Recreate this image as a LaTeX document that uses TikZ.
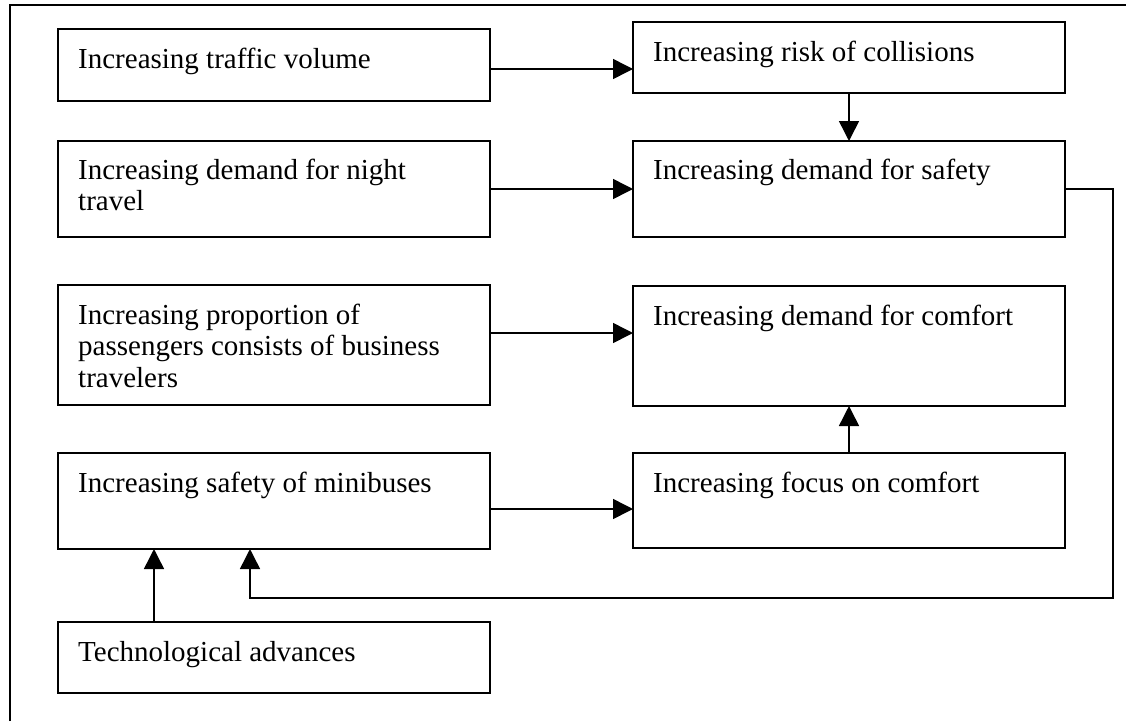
\documentclass[tikz,border=0pt]{standalone}
\usepackage{fontspec}
\setmainfont{Liberation Serif}
\usetikzlibrary{arrows.meta,calc}
\begin{document}
\begin{tikzpicture}[x=1pt,y=-1pt,
  box/.style={draw,line width=1.5pt,rectangle,inner sep=0pt,outer sep=0pt,minimum width=432pt},
  lbl/.style={inner sep=0pt,anchor=base west,font=\fontsize{29}{31.5}\selectfont},
  arr/.style={line width=1.5pt,-{Triangle[length=20pt,width=20pt]}}]
\useasboundingbox (0,0) rectangle (1126,721);
% outer frame (left and top edges)
\draw[line width=1.5pt] (10,721) -- (10,5) -- (1126,5);

% boxes
\node[box,minimum height=72pt,anchor=north west] (traffic) at (58,29) {};
\node[box,minimum height=71pt,anchor=north west] (risk) at (633,22) {};
\node[box,minimum height=96pt,anchor=north west] (night) at (58,141) {};
\node[box,minimum height=96pt,anchor=north west] (safety) at (633,141) {};
\node[box,minimum height=120pt,anchor=north west] (business) at (58,285) {};
\node[box,minimum height=120pt,anchor=north west] (comfort) at (633,286) {};
\node[box,minimum height=96pt,anchor=north west] (minibus) at (58,453) {};
\node[box,minimum height=95pt,anchor=north west] (focus) at (633,453) {};
\node[box,minimum height=71pt,anchor=north west] (tech) at (58,622) {};

% box texts
\node[lbl] (traffic-t) at ($(traffic.north west)+(20,39)$) {\begin{tabular}[t]{@{}l@{}}Increasing traffic volume\end{tabular}};
\node[lbl] (risk-t) at ($(risk.north west)+(20,39)$) {\begin{tabular}[t]{@{}l@{}}Increasing risk of collisions\end{tabular}};
\node[lbl] (night-t) at ($(night.north west)+(20,38)$) {\begin{tabular}[t]{@{}l@{}}Increasing demand for night\\travel\end{tabular}};
\node[lbl] (safety-t) at ($(safety.north west)+(20,38)$) {\begin{tabular}[t]{@{}l@{}}Increasing demand for safety\end{tabular}};
\node[lbl] (business-t) at ($(business.north west)+(20,39)$) {\begin{tabular}[t]{@{}l@{}}Increasing proportion of\\passengers consists of business\\travelers\end{tabular}};
\node[lbl] (comfort-t) at ($(comfort.north west)+(20,39)$) {\begin{tabular}[t]{@{}l@{}}Increasing demand for comfort\end{tabular}};
\node[lbl] (minibus-t) at ($(minibus.north west)+(20,39)$) {\begin{tabular}[t]{@{}l@{}}Increasing safety of minibuses\end{tabular}};
\node[lbl] (focus-t) at ($(focus.north west)+(20,39)$) {\begin{tabular}[t]{@{}l@{}}Increasing focus on comfort\end{tabular}};
\node[lbl] (tech-t) at ($(tech.north west)+(20,39)$) {\begin{tabular}[t]{@{}l@{}}Technological advances\end{tabular}};

% connectors
\draw[arr] ([yshift=-40pt]traffic.north east) -- ([yshift=-40pt]traffic.north east -| risk.west);
\draw[arr] (risk.south) -- (safety.north);
\draw[arr] (night.east) -- (safety.west);
\draw[arr] ([yshift=-48pt]business.north east) -- ([yshift=-48pt]business.north east -| comfort.west);
\draw[arr] (focus.north) -- (comfort.south);
\draw[arr] ([yshift=-56pt]minibus.north east) -- ([yshift=-56pt]minibus.north east -| focus.west);
\draw[arr] ([xshift=96pt]tech.north west) -- ([xshift=96pt]minibus.south west);
\coordinate (loopright) at (1113,598);
\coordinate (loopleft) at (250,598);
\draw[arr] (safety.east) -| (loopright) -- (loopleft) -- (loopleft |- minibus.south);
\end{tikzpicture}
\end{document}
